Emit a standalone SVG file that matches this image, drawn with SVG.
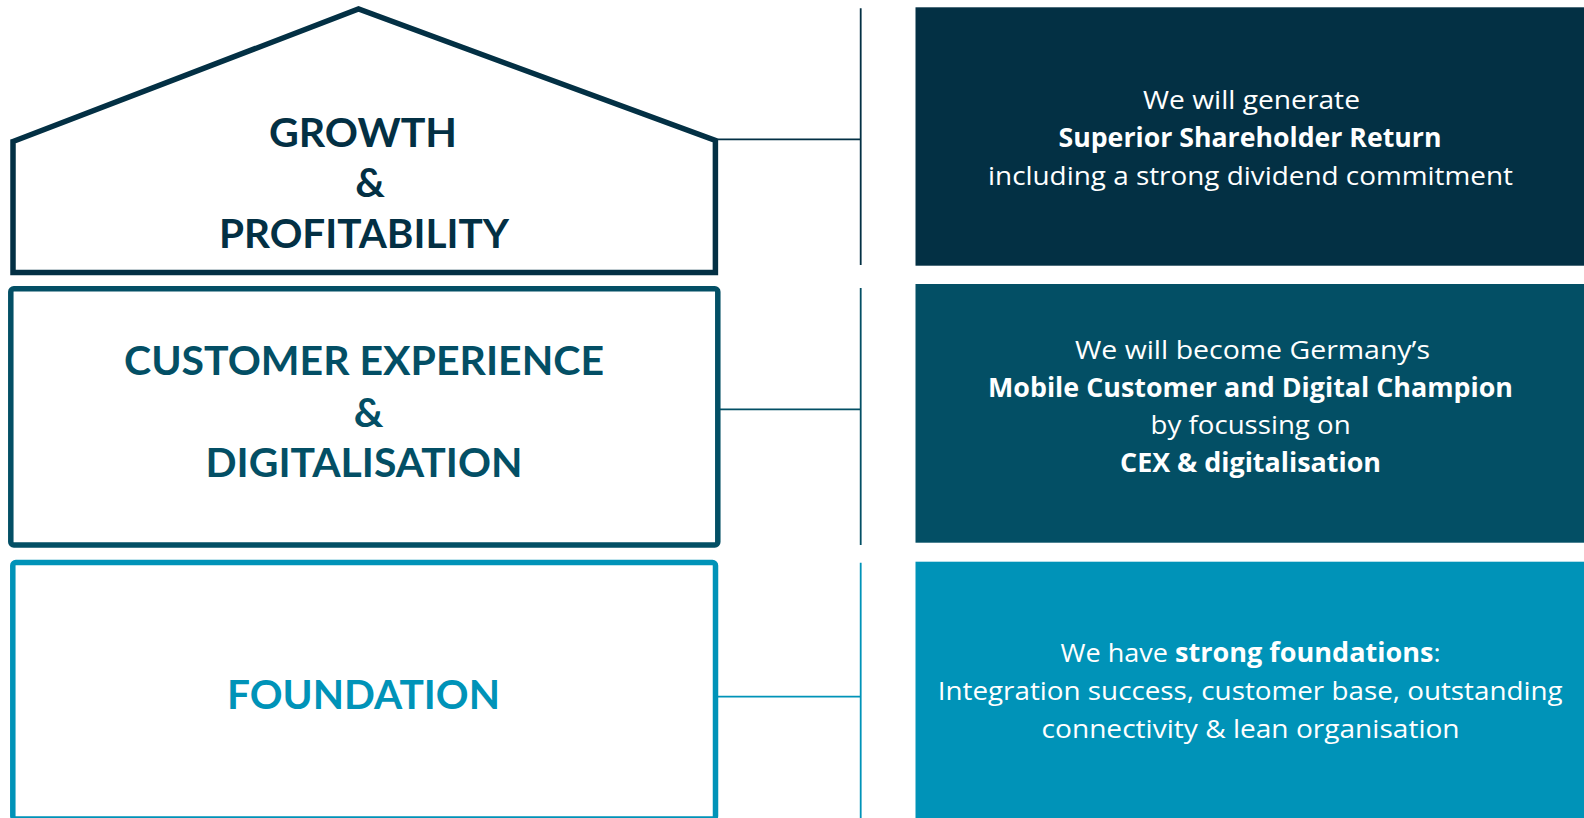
<svg xmlns="http://www.w3.org/2000/svg" width="1584" height="818" viewBox="0 0 1584 818">
  <style>
    .head { font-family: Lato, "Open Sans", "Liberation Sans", sans-serif; font-weight: 700; font-size: 41px; text-anchor: middle; }
    .body { font-family: "Open Sans", "Noto Sans", "Liberation Sans", sans-serif; font-weight: 400; font-size: 26px; text-anchor: middle; fill: #ffffff; }
    .b { font-weight: 700; }
    .navy { fill: #033044; }
    .teal { fill: #034F65; }
    .sky { fill: #0093B8; }
    .frame { fill: #ffffff; stroke-width: 5.5; }
    .link { fill: none; stroke-width: 1.8; }
  </style>

  <rect width="1584" height="818" fill="#ffffff"/>

  <!-- left column: the house tiers -->
  <g id="growth-profitability">
    <path class="frame" d="M13,141.5 L358.5,9 L715.4,140.5 L715.4,272.5 L13,272.5 Z" stroke="#033044" stroke-linejoin="miter"/>
    <text class="head navy" x="363" y="146.7" textLength="188" lengthAdjust="spacingAndGlyphs">GROWTH</text>
    <text class="head navy" x="370" y="196.7">&amp;</text>
    <text class="head navy" x="364" y="248.3" textLength="290" lengthAdjust="spacingAndGlyphs">PROFITABILITY</text>
  </g>

  <g id="customer-experience">
    <rect class="frame" x="10.8" y="288.8" width="707" height="256.2" rx="3" stroke="#034F65"/>
    <text class="head teal" x="364" y="375" textLength="480" lengthAdjust="spacingAndGlyphs">CUSTOMER EXPERIENCE</text>
    <text class="head teal" x="368.7" y="427.3">&amp;</text>
    <text class="head teal" x="364" y="477.3" textLength="317" lengthAdjust="spacingAndGlyphs">DIGITALISATION</text>
  </g>

  <g id="foundation">
    <rect class="frame" x="12.8" y="562.5" width="702.7" height="256.5" rx="3" stroke="#0093B8"/>
    <text class="head sky" x="363.5" y="708.5" textLength="273" lengthAdjust="spacingAndGlyphs">FOUNDATION</text>
  </g>

  <!-- connectors between tiers and statements -->
  <g id="connectors">
    <path class="link" stroke="#033044" d="M718,139.3 H860.7 M860.7,8.3 V265"/>
    <path class="link" stroke="#034F65" d="M720,409.3 H860.7 M860.7,288 V545"/>
    <path class="link" stroke="#0093B8" d="M718,696.7 H860.7 M860.7,562.7 V818"/>
  </g>

  <!-- right column: statements -->
  <g id="statement-return">
    <rect x="915.5" y="7.3" width="668.5" height="258.4" class="navy"/>
    <text class="body" x="1251.5" y="108.8" textLength="217" lengthAdjust="spacingAndGlyphs">We will generate</text>
    <text class="body b" x="1250" y="147" textLength="383" lengthAdjust="spacingAndGlyphs">Superior Shareholder Return</text>
    <text class="body" x="1250.5" y="184.5" textLength="525" lengthAdjust="spacingAndGlyphs">including a strong dividend commitment</text>
  </g>

  <g id="statement-champion">
    <rect x="915.5" y="284" width="668.5" height="258.7" class="teal"/>
    <text class="body" x="1252.5" y="359.3" textLength="355" lengthAdjust="spacingAndGlyphs">We will become Germany’s</text>
    <text class="body b" x="1250.5" y="396.8" textLength="525" lengthAdjust="spacingAndGlyphs">Mobile Customer and Digital Champion</text>
    <text class="body" x="1250.6" y="434.3" textLength="200" lengthAdjust="spacingAndGlyphs">by focussing on</text>
    <text class="body b" x="1250.5" y="471.8" textLength="261" lengthAdjust="spacingAndGlyphs">CEX &amp; digitalisation</text>
  </g>

  <g id="statement-foundations">
    <rect x="915.5" y="561.7" width="668.5" height="256.3" class="sky"/>
    <text class="body" x="1250.6" y="661.7" textLength="380" lengthAdjust="spacingAndGlyphs">We have <tspan class="b">strong foundations</tspan>:</text>
    <text class="body" x="1250.2" y="700" textLength="625" lengthAdjust="spacingAndGlyphs">Integration success, customer base, outstanding</text>
    <text class="body" x="1250.6" y="738.3" textLength="418" lengthAdjust="spacingAndGlyphs">connectivity &amp; lean organisation</text>
  </g>
</svg>
